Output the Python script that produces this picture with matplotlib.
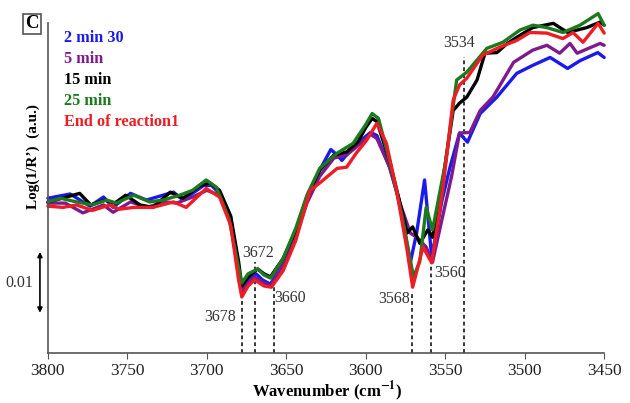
import matplotlib
matplotlib.use("Agg")
import matplotlib.pyplot as plt

plt.rcParams["font.family"] = ["Liberation Serif", "DejaVu Serif"]
plt.rcParams["mathtext.fontset"] = "stix"

# Spectra (wavenumber in cm-1, Log(1/R') in 1e-3 a.u.)
w_blue = [3800, 3786, 3773.5, 3765, 3759, 3748, 3738, 3721, 3715, 3702, 3697, 3692, 3685, 3680,
          3678, 3674, 3669, 3665, 3660, 3652, 3644, 3637, 3629, 3622, 3618, 3615, 3608, 3603,
          3597, 3593, 3585, 3579, 3572, 3568, 3563, 3558.5, 3552, 3547, 3541, 3536, 3528,
          3517.5, 3505, 3495, 3484, 3473, 3465, 3454, 3450]
v_blue = [25.4, 26.1, 24.1, 25.6, 23.9, 26.2, 25.1, 26.4, 25.1, 27.5, 27.5, 26.2, 22.3, 14.0,
          10.5, 12.0, 13.0, 12.0, 11.3, 14.8, 19.7, 25.1, 30.0, 33.4, 32.5, 31.6, 33.8, 34.9,
          36.2, 35.7, 30.5, 25.1, 14.8, 19.7, 28.4, 15.7, 25.1, 30.5, 36.1, 34.6, 39.3,
          42.0, 45.9, 47.2, 48.5, 46.7, 48.0, 49.3, 48.5]

w_purple = [3800, 3789, 3778, 3765, 3759, 3748, 3738, 3726, 3719, 3709, 3700, 3692, 3685, 3680,
            3678, 3674, 3670, 3665, 3660, 3652, 3644, 3637, 3629, 3620, 3612, 3605, 3597, 3593,
            3585, 3579, 3572, 3568, 3562, 3558, 3552, 3546, 3541, 3534.5, 3528, 3520, 3507,
            3495, 3486, 3478, 3471.5, 3467, 3452.6, 3450]
v_purple = [24.6, 24.6, 23.0, 24.3, 23.1, 24.8, 23.9, 24.8, 24.6, 25.6, 26.7, 25.9, 21.5, 13.0,
            10.0, 11.5, 12.5, 11.6, 11.0, 14.5, 19.2, 24.6, 29.0, 32.0, 32.5, 34.0, 35.9, 35.2,
            30.5, 25.0, 19.7, 19.0, 17.4, 14.9, 22.0, 29.0, 36.1, 36.2, 39.8, 42.0, 47.7,
            49.7, 50.5, 49.2, 50.8, 49.2, 50.8, 50.5]

w_black = [3800, 3791, 3780, 3773, 3764, 3758, 3751, 3742, 3734, 3723, 3715, 3704, 3698, 3692,
           3685, 3680, 3678, 3674, 3668, 3664, 3660, 3652, 3644, 3637, 3629, 3620, 3612, 3605,
           3600, 3596, 3593, 3585, 3576, 3574, 3570.5, 3566, 3561, 3558, 3552, 3545, 3541,
           3536.4, 3530, 3525, 3517.5, 3511, 3505, 3495, 3482, 3473, 3461, 3452.6, 3450]
v_black = [24.8, 25.4, 26.2, 24.3, 25.1, 24.6, 25.9, 24.3, 23.9, 26.4, 25.4, 27.5, 27.9, 26.7,
           22.5, 15.0, 11.0, 12.5, 13.8, 13.0, 12.5, 15.5, 20.2, 25.6, 30.0, 32.5, 33.0, 34.6,
           37.0, 38.5, 38.0, 31.5, 22.0, 19.7, 20.7, 18.0, 20.2, 19.0, 27.5, 39.8, 41.0,
           42.0, 44.8, 49.2, 49.3, 50.8, 51.8, 53.4, 54.1, 52.6, 53.4, 54.3, 53.8]

w_green = [3800, 3792, 3782, 3772, 3763, 3757, 3746, 3736, 3727.5, 3717, 3709, 3700.4, 3694,
           3686, 3680, 3678, 3674, 3668, 3664, 3660, 3652, 3644, 3637, 3629, 3618, 3608, 3600,
           3596, 3592, 3585, 3577, 3570, 3566, 3562, 3558, 3550, 3542.8, 3536.4, 3523.8,
           3513.7, 3503, 3494.8, 3486, 3475.9, 3465.2, 3453.8, 3450]
v_green = [24.8, 25.4, 24.8, 24.3, 25.1, 24.6, 25.9, 24.8, 25.1, 25.9, 26.7, 28.4, 27.2,
           22.0, 14.0, 11.5, 13.0, 13.8, 12.8, 12.3, 15.5, 20.5, 25.9, 30.3, 32.8, 34.4, 37.5,
           39.3, 38.5, 31.5, 22.3, 12.5, 15.0, 23.9, 20.2, 31.0, 44.8, 46.1, 50.0,
           51.0, 53.0, 53.8, 53.4, 52.6, 53.8, 55.7, 53.8]

w_red = [3800, 3790.5, 3782, 3772, 3761, 3755, 3746, 3734, 3721, 3713, 3700.4, 3692, 3685, 3680,
         3678, 3674, 3670, 3664, 3659.4, 3652, 3644, 3635, 3629, 3618, 3612, 3606, 3599.5, 3593,
         3587, 3580.6, 3574, 3570.5, 3564, 3558.5, 3551.6, 3545, 3541, 3536.4, 3526.4, 3515.6,
         3505, 3496.7, 3486, 3476, 3469.6, 3463.3, 3453.8, 3450]
v_red = [24.1, 23.9, 24.3, 23.4, 24.3, 23.6, 23.9, 23.9, 24.8, 23.9, 27.0, 25.6, 21.0, 12.0,
         9.2, 11.0, 12.0, 11.0, 10.8, 13.5, 18.5, 26.7, 27.9, 30.3, 30.5, 32.8, 34.9, 37.7,
         34.4, 26.7, 16.9, 10.8, 17.4, 14.8, 26.7, 41.5, 44.0, 45.1, 48.9, 50.2,
         51.3, 52.6, 52.5, 51.6, 52.6, 51.0, 54.1, 52.5]

series = [
    ("2 min 30", w_blue, v_blue, "#1a1aee"),
    ("5 min", w_purple, v_purple, "#7f1a8c"),
    ("15 min", w_black, v_black, "#000000"),
    ("25 min", w_green, v_green, "#1b7a1b"),
    ("End of reaction1", w_red, v_red, "#ee1c24"),
]

# Marked bands: label, line position, top of dashed line
band_labels = ["3678", "3672", "3660", "3568", "3560", "3534"]
band_pos = [3678, 3670, 3658, 3571, 3559, 3538]
band_top = [9.2, 15.0, 10.8, 9.8, 16.4, 48.5]

fig = plt.figure(figsize=(6.3, 4.03), dpi=100)
ax = fig.add_axes([0.076, 0.124, 0.883, 0.874])

for pos, top in zip(band_pos, band_top):
    ax.plot([pos, pos], [0, top], color="black", ls=(0, (2.5, 2)), lw=1.1, zorder=1)

for name, w, v, c in series:
    ax.plot(w, v, color=c, lw=2.4, zorder=2, clip_on=False,
            solid_joinstyle="round", solid_capstyle="round")

# band labels
lab_kw = dict(fontsize=11.5, color="#333333")
ax.text(3681.4, 5.9, band_labels[0], ha="right", va="center", **lab_kw)
ax.text(3667.6, 16.4, band_labels[1], ha="center", va="center", **lab_kw)
ax.text(3657.5, 9.0, band_labels[2], ha="left", va="center", **lab_kw)
ax.text(3572.4, 8.9, band_labels[3], ha="right", va="center", **lab_kw)
ax.text(3557, 13.1, band_labels[4], ha="left", va="center", **lab_kw)
ax.text(3541.5, 50.8, band_labels[5], ha="center", va="center", **lab_kw)

# legend as coloured text
for i, (name, w, v, c) in enumerate(series):
    fig.text(64 / 630, 1 - (38 + 21 * i) / 403, name, color=c, fontsize=11.7,
             fontweight="bold", ha="left", va="center")

# scale bar
ax.annotate("", xy=(3805, 16.6), xytext=(3805, 6.6), annotation_clip=False,
            arrowprops=dict(arrowstyle="<|-|>", color="black", lw=1.2,
                            mutation_scale=7, shrinkA=0, shrinkB=0))
ax.text(3818, 11.5, "0.01", ha="center", va="center", fontsize=11.5, color="#333333",
        clip_on=False)

ax.set_xlim(3800, 3450)
ax.set_ylim(0, 57.8)
ax.set_xticks([3800, 3750, 3700, 3650, 3600, 3550, 3500, 3450])
ax.set_yticks([])
ax.tick_params(axis="x", labelsize=12.5, length=4, color="#555555", labelcolor="#222222", pad=3)
ax.spines["top"].set_visible(False)
ax.spines["right"].set_visible(False)
ax.spines["left"].set_bounds(0, 54.1)
for s in ("left", "bottom"):
    ax.spines[s].set_color("#555555")
    ax.spines[s].set_linewidth(1.2)

fig.text(327 / 630, 1 - 391 / 403, "Wavenumber (cm$^{\\mathbf{-1}}$)", ha="center", va="center",
         fontsize=12, fontweight="bold")
fig.text(33 / 630, 1 - 157 / 403, "Log(1/R\u2019)  (a.u.)", ha="center", va="center",
         rotation=90, fontsize=11, fontweight="bold")

fig.text(32 / 630, 1 - 24 / 403, "C", ha="center", va="center", fontsize=13.5,
         fontweight="bold",
         bbox=dict(boxstyle="square,pad=0.1", fc="white", ec="#555555", lw=1.2))

fig.savefig("out.png", dpi=100)
